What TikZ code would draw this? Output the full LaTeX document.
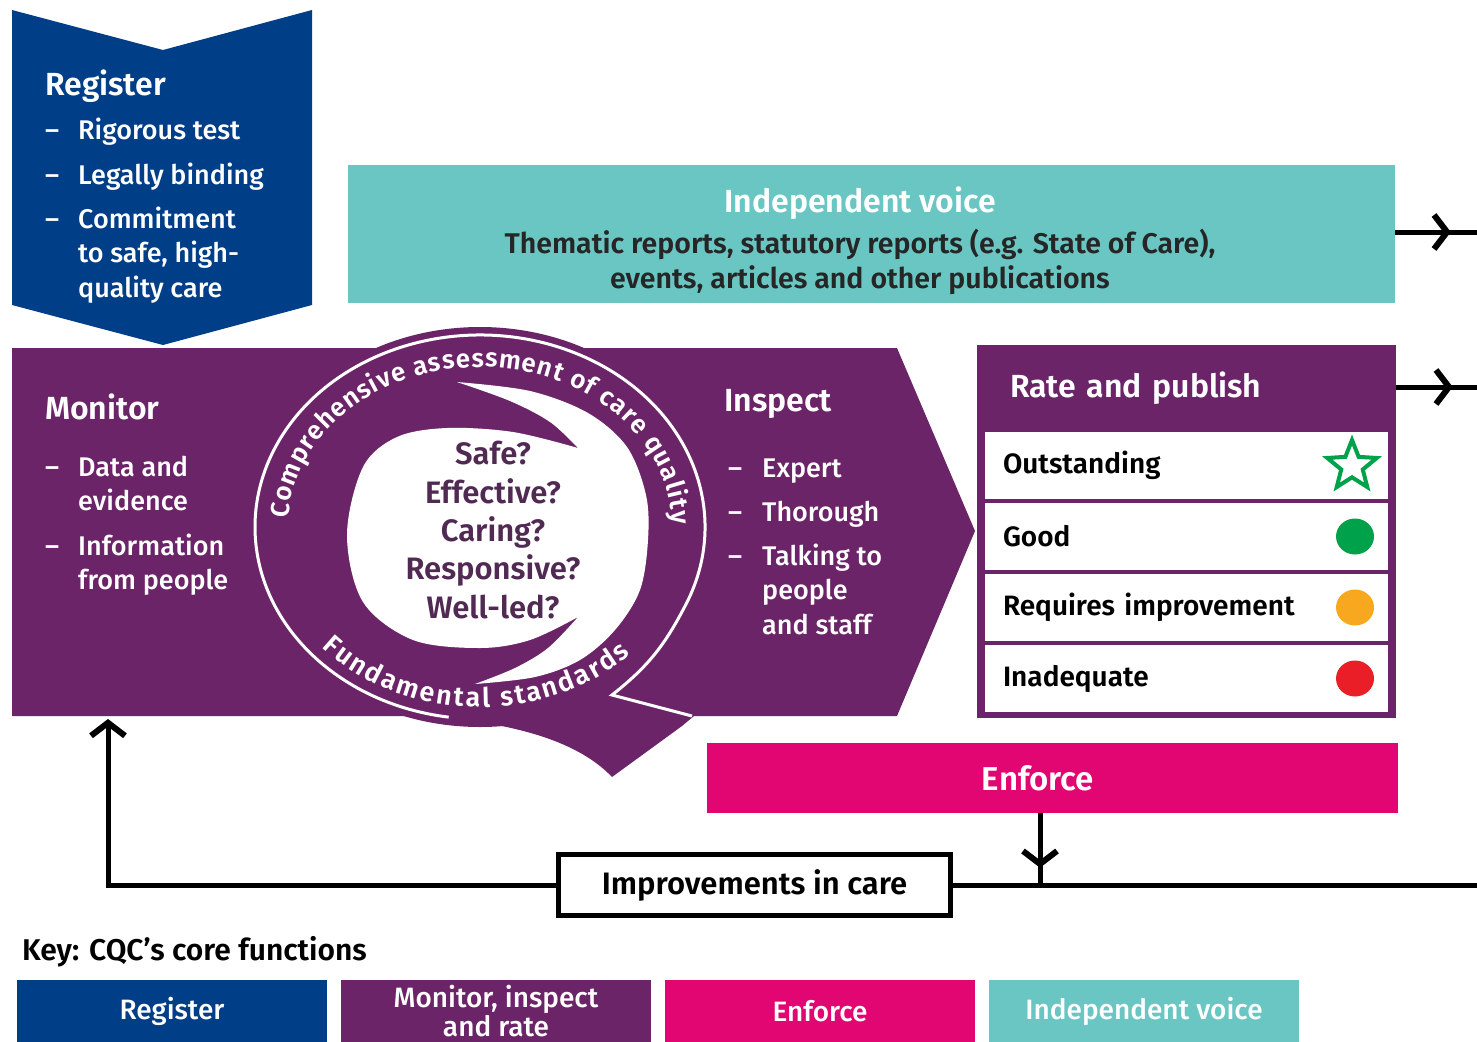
\documentclass[tikz,border=0pt]{standalone}
\usepackage{fontspec}
\IfFontExistsTF{Fira Sans Medium}
  {\setmainfont{Fira Sans Medium}[BoldFont={Fira Sans SemiBold}]}
  {\setmainfont{Fira Sans}}
\usepackage{xcolor}
\usetikzlibrary{arrows.meta, calc, shapes.geometric, decorations.text, decorations.markings}

\definecolor{cqcblue}{RGB}{0,62,135}
\definecolor{cqcpurple}{RGB}{107,36,104}
\definecolor{cqcteal}{RGB}{106,198,194}
\definecolor{cqcpink}{RGB}{225,6,114}
\definecolor{okgreen}{RGB}{0,161,75}
\definecolor{riamber}{RGB}{247,168,30}
\definecolor{badred}{RGB}{234,30,38}
\definecolor{qdark}{RGB}{80,42,82}

\newcommand{\fsz}[2]{\fontsize{#1}{#2}\selectfont}
% lines of a list item, aligned on the first baseline
\newcommand{\itemlines}[1]{\begin{tabular}[t]{@{}l@{}}#1\end{tabular}}

\begin{document}
\begin{tikzpicture}[x=1pt, y=-1pt,
  head/.style={font=\fsz{32}{36}\bfseries, text=white, inner sep=0, anchor=base west},
  item/.style={font=\fsz{27}{34.5}, text=white, inner sep=0, anchor=base west},
  rowbox/.style={fill=white, inner sep=0, minimum width=403, minimum height=67, text width=367, align=left, font=\fsz{28}{30}\bfseries},
  keybox/.style={inner sep=0, minimum width=310, minimum height=62, text=white, align=center, font=\fsz{28}{29}},
  flow/.style={line width=5pt},
  tip/.style={-{Straight Barb[length=13pt,width=34pt,line width=6pt]}},
  midarrow/.style={postaction={decorate}, decoration={markings, mark=at position #1 with {\arrow{Straight Barb[length=13pt,width=34pt,line width=6pt]}}}},
  midarrow/.default=0.65,
  qline/.style={white, line width=3pt}
]
\useasboundingbox (0,0) rectangle (1477,1041);

% register chevron
\fill[cqcblue] (12,10) -- (163,50) -- (312,10) -- (312,305) -- (163,345) -- (12,305) -- cycle;
\node[head] (reghead) at (45,95) {Register};
\foreach \y/\txt [count=\i] in {139/Rigorous test, 184/Legally binding, 228/Commitment\\to safe{,} high-\\quality care} {
  \node[item] (regdash\i) at (45,\y) {--};
  \node[item] (regitem\i) at (78,\y) {\itemlines{\txt}};
}

% independent voice
\node[fill=cqcteal, inner sep=0, minimum width=1047, minimum height=138] (voice) at (871.5,234) {};
\node[head, anchor=center, font=\fsz{32}{36}\bfseries] (voicehead) at (860,203) {Independent voice};
\node[inner sep=0, align=center, font=\fsz{28.5}{35}\bfseries, text=black!85] (voicetext) at (860,262)
  {Thematic reports, statutory reports (e.g. State of Care),\\events, articles and other publications};
\coordinate (voiceend) at (1477,232);
\draw[flow, midarrow=0.68] (voice.east |- voiceend) -- (voiceend);

% monitor / inspect band
\fill[cqcpurple] (12,348) -- (897,348) -- (975,531) -- (897,716) -- (12,716) -- cycle;

% the Q
\coordinate (qc) at (480,527);
\fill[cqcpurple] (qc) ellipse[x radius=233, y radius=200];
\fill[cqcpurple] (425,716) .. controls (505,722) and (575,738) .. (612,777) -- (682,726) -- (694,716) -- cycle;
\fill[white]
  plot[smooth, tension=0.55] coordinates {(578,617) (530,640) (480,648) (413,640) (363,602) (347,535) (363,467) (397,437) (447,428) (513,432) (578,448)}
  -- plot[smooth, tension=0.55] coordinates {(578,448) (550,422) (510,401) (457,382)}
  -- plot[smooth, tension=0.55] coordinates {(457,382) (530,391) (588,413) (627,447) (646,495) (648,540) (640,590) (615,630) (580,660) (535,677) (475,684)}
  -- plot[smooth, tension=0.55] coordinates {(475,684) (515,668) (548,648) (578,617)}
  -- cycle;
\draw[qline, line join=miter] (692,716) -- (612,695) to[bend right=12] ($(qc)+(25:225 and 192)$)
  arc[start angle=25, end angle=-262, x radius=225, y radius=192];
\path[decorate, decoration={text along path, text align={fit to path}, text color=white,
    text={|\fsz{26}{26}\bfseries|Comprehensive assessment of care quality}}]
  ($(qc)+(183:192 and 160)$) arc[start angle=183, end angle=359, x radius=192, y radius=160];
\path[decorate, decoration={text along path, text align={fit to path}, text color=white,
    text={|\fsz{27}{27}\bfseries|Fundamental standards}}]
  ($(qc)+(138:213 and 180)$) arc[start angle=138, end angle=45, x radius=213, y radius=180];
\node[inner sep=0, align=center, font=\fsz{31}{38.3}\bfseries, text=qdark] (qs) at (493,530)
  {Safe?\\Effective?\\Caring?\\Responsive?\\Well-led?};

\node[head] (monhead) at (45,419) {Monitor};
\foreach \y/\txt [count=\i] in {476/Data and\\evidence, 555/Information\\from people} {
  \node[item] (mondash\i) at (45,\y) {--};
  \node[item] (monitem\i) at (78,\y) {\itemlines{\txt}};
}
\node[head] (insphead) at (724,411) {Inspect};
\foreach \y/\txt [count=\i] in {477/Expert, 521/Thorough, 565/Talking to\\people\\and staff} {
  \node[item] (inspdash\i) at (728,\y) {--};
  \node[item] (inspitem\i) at (762,\y) {\itemlines{\txt}};
}

% rate and publish
\node[fill=cqcpurple, inner sep=0, minimum width=419, minimum height=373] (rate) at (1186.5,531.5) {};
\node[head, anchor=center, minimum width=419, minimum height=87, text width=353, align=left] (ratehead) at (1186.5,388.5) {Rate and publish};
\foreach \lab [count=\i from 0] in {Outstanding, Good, Requires improvement, Inadequate}
  \node[rowbox] (row\i) at (1186.5, 465.5+71*\i) {\lab};
\node[star, star points=5, star point ratio=2.3, draw=okgreen, line width=4pt, minimum size=52, inner sep=0] (star) at (1352,466) {};
\foreach \col [count=\i] in {okgreen, riamber, badred}
  \fill[\col] (1355, 465.5+71*\i) ellipse[x radius=19, y radius=18];
\coordinate (rateend) at (1477,387);
\draw[flow, midarrow=0.70] (ratehead.east |- rateend) -- (rateend);

% enforce and the loop back
\node[fill=cqcpink, inner sep=0, minimum width=691, minimum height=70] (enforce) at (1052.5,778) {};
\node[inner sep=0, text=white, font=\fsz{33}{36}\bfseries] (enforcetext) at (1038,778) {Enforce};
\node[draw, line width=5pt, inner sep=0, minimum width=392, minimum height=61, font=\fsz{31}{34}\bfseries] (improve) at (754.5,885) {Improvements in care};
\coordinate (joinR) at (1040,885);
\coordinate (loopend) at (1477,885);
\coordinate (monin) at (108,719);
\draw[flow, midarrow=0.76] (enforce.south -| joinR) -- (joinR);
\draw[flow] (improve.east) -- (loopend);
\draw[flow, tip] (improve.west) -| (monin);

% key
\node[inner sep=0, anchor=base west, font=\fsz{30}{32}\bfseries] (keytitle) at (22,960) {Key: CQC’s core functions};
\foreach \col/\lab [count=\i from 0] in {cqcblue/Register, cqcpurple/Monitor{,} inspect\\and rate, cqcpink/Enforce, cqcteal/Independent voice}
  \node[keybox, fill=\col] (key\i) at (172+324*\i, 1011) {\lab};
\end{tikzpicture}
\end{document}
